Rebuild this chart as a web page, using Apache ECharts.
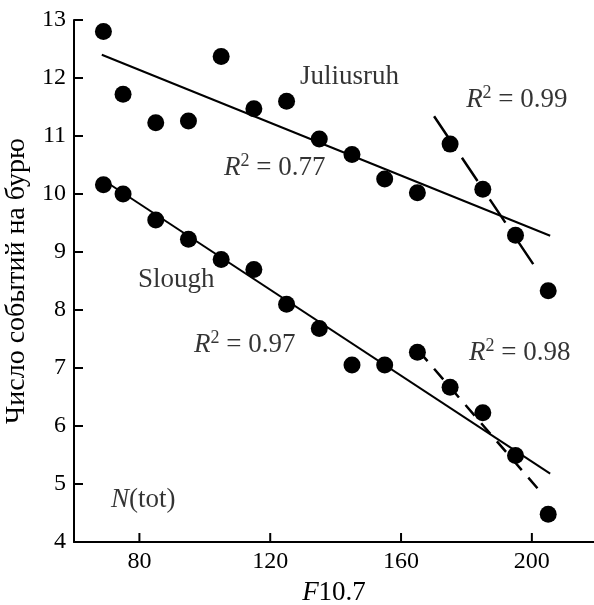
<!DOCTYPE html>
<html><head><meta charset="utf-8">
<script src="https://cdn.jsdelivr.net/npm/echarts@6/dist/echarts.min.js"></script>
<style>html,body{margin:0;padding:0;background:#fff}#c{width:594px;height:605px}</style>
</head><body><div id="c"></div>
<script>
var F10 = [69, 75, 85, 95, 105, 115, 125, 135, 145, 155, 165, 175, 185, 195, 205];
var juliusruh = [12.80, 11.72, 11.23, 11.26, 12.37, 11.47, 11.60, 10.95, 10.68, 10.26, 10.02, 10.86, 10.08, 9.29, 8.33];
var slough = [10.16, 10.00, 9.55, 9.22, 8.87, 8.70, 8.10, 7.68, 7.05, 7.05, 7.27, 6.67, 6.23, 5.49, 4.48];
var jFitAllX = [68.5, 205.6], jFitAllY = [12.40, 9.28];
var jFitHiX = [170.1, 201.5], jFitHiY = [11.34, 8.70];
var sFitAllX = [68.7, 205.6], sFitAllY = [10.25, 5.18];
var sFitHiX = [165.3, 203.2], sFitHiY = [7.30, 4.83];
var xTicks = [80, 120, 160, 200];
var yTicks = [4, 5, 6, 7, 8, 9, 10, 11, 12, 13];
var annText = ['Juliusruh', '{i|R}{sup|2}{n| = 0.99}', '{i|R}{sup|2}{n| = 0.77}', 'Slough', '{i|R}{sup|2}{n| = 0.97}', '{i|R}{sup|2}{n| = 0.98}', '{i|N}{n|(tot)}'];
var annX = [129.1, 179.9, 105.9, 79.6, 96.7, 180.8, 71.3];
var annY = [12.02, 11.62, 10.45, 8.52, 7.40, 7.26, 4.72];

var FONT = 'Liberation Serif';
var COL = '#000';
var X_MIN = 60, X_MAX = 219, Y_MIN = 4, Y_MAX = 13;
var TICK_LEN = 9;
function pairs(xs, ys){ return xs.map(function(x,i){ return [x, ys[i]]; }); }
var rich = {
  i: {fontFamily: FONT, fontStyle: 'italic', fontSize: 27, color: COL},
  n: {fontFamily: FONT, fontSize: 27, color: COL},
  sup: {fontFamily: FONT, fontSize: 18, color: COL, padding: [0, 0, 13, 0]}
};
var chart = echarts.init(document.getElementById('c'), null, {renderer: 'canvas'});
chart.setOption({
  animation: false,
  backgroundColor: '#fff',
  grid: {left: 74, right: 0, top: 20, bottom: 63, outerBoundsMode: 'none', containLabel: false},
  xAxis: {
    type: 'value', min: X_MIN, max: X_MAX,
    name: '{i|F}{n|10.7}', nameLocation: 'middle', nameGap: 37,
    nameTextStyle: {rich: rich},
    axisLine: {show: true, onZero: false, lineStyle: {color: COL, width: 2}},
    axisTick: {show: false},
    axisLabel: {fontFamily: FONT, fontSize: 24, color: COL, margin: 8, customValues: xTicks},
    splitLine: {show: false}
  },
  yAxis: {
    type: 'value', min: Y_MIN, max: Y_MAX, interval: 1,
    name: 'Число событий на бурю', nameLocation: 'middle', nameGap: 41, nameRotate: 90,
    nameTextStyle: {fontFamily: FONT, fontSize: 28, color: COL},
    axisLine: {show: true, onZero: false, lineStyle: {color: COL, width: 2}},
    axisTick: {show: false},
    axisLabel: {fontFamily: FONT, fontSize: 24, color: COL, margin: 8},
    splitLine: {show: false}
  },
  series: [
    {type: 'line', data: pairs(jFitAllX, jFitAllY), symbol: 'none', z: 1, lineStyle: {color: COL, width: 2}},
    {type: 'line', data: pairs(sFitAllX, sFitAllY), symbol: 'none', z: 1, lineStyle: {color: COL, width: 2}},
    {type: 'line', data: pairs(jFitHiX, jFitHiY), symbol: 'none', z: 1, lineStyle: {color: COL, width: 2.5, type: [28, 22]}},
    {type: 'line', data: pairs(sFitHiX, sFitHiY), symbol: 'none', z: 1, lineStyle: {color: COL, width: 2.5, type: [14, 10]}},
    {type: 'scatter', data: pairs(F10, juliusruh), symbol: 'circle', symbolSize: 17, z: 3, itemStyle: {color: COL, opacity: 1}},
    {type: 'scatter', data: pairs(F10, slough), symbol: 'circle', symbolSize: 17, z: 3, itemStyle: {color: COL, opacity: 1}},
    {type: 'scatter', data: pairs(annX, annY).map(function(p, i){ return {value: p, label: {formatter: annText[i]}}; }),
     symbolSize: 0, z: 4, silent: true,
     label: {show: true, position: 'right', distance: 0, fontFamily: FONT, fontSize: 27, color: COL, rich: rich}}
  ]
});
// inward tick marks, positioned through the chart's own axis scales
var tickEls = [];
xTicks.forEach(function(v){
  var p = chart.convertToPixel({gridIndex: 0}, [v, Y_MIN]);
  tickEls.push({type: 'line', silent: true, z: 10,
    shape: {x1: p[0], y1: p[1], x2: p[0], y2: p[1] - TICK_LEN},
    style: {stroke: COL, lineWidth: 2}});
});
yTicks.forEach(function(v){
  var p = chart.convertToPixel({gridIndex: 0}, [X_MIN, v]);
  tickEls.push({type: 'line', silent: true, z: 10,
    shape: {x1: p[0], y1: p[1], x2: p[0] + TICK_LEN, y2: p[1]},
    style: {stroke: COL, lineWidth: 2}});
});
chart.setOption({graphic: {elements: tickEls}});
</script></body></html>
